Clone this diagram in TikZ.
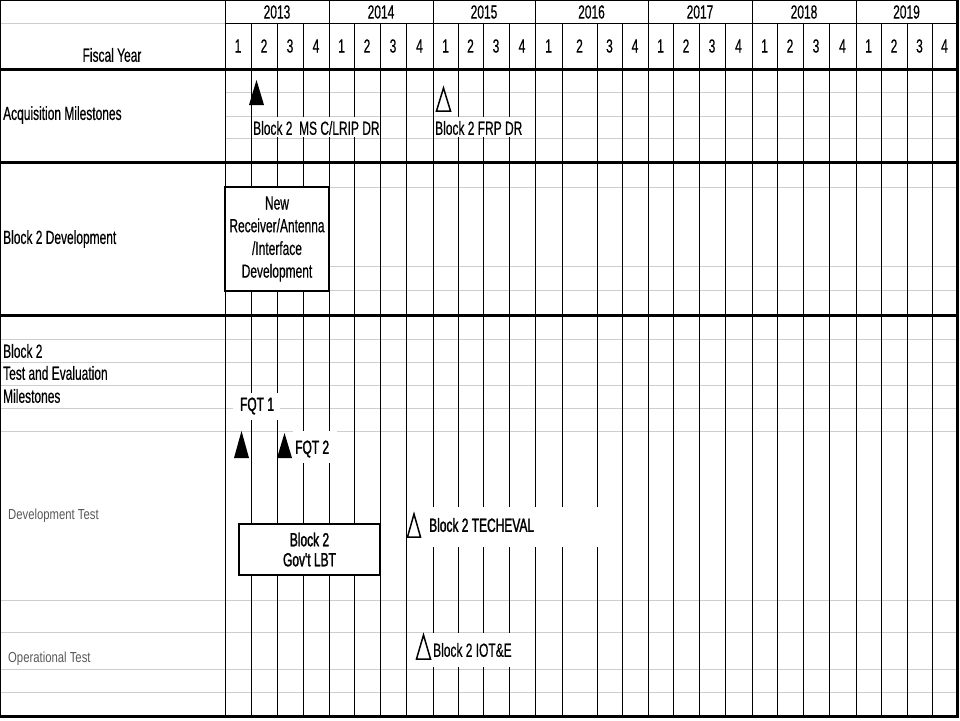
\documentclass[tikz,border=0pt]{standalone}
\usepackage{fontspec}
\setmainfont{Liberation Sans}[FakeStretch=0.63,FakeBold=0.4]
\newfontfamily\bfishfont{Liberation Sans}[FakeStretch=0.63,FakeBold=1.5]
\newfontfamily\thinfont{Liberation Sans}[FakeStretch=0.78]
\newcommand\fsmain{\fontsize{19}{22.7}\selectfont}
\newcommand\fsbf{\bfishfont\fontsize{19}{20}\selectfont}
\newcommand\fsthin{\thinfont\fontsize{14.5}{16}\selectfont}
\definecolor{gridgray}{RGB}{205,205,205}
\begin{document}
\begin{tikzpicture}[x=1pt,y=-1pt,
  thinline/.style={line width=1pt,black},
  thickline/.style={line width=3pt,black},
  grayline/.style={line width=1pt,gridgray},
  num/.style={inner sep=0pt,font=\fsmain},
  rowlabel/.style={inner sep=0pt,anchor=west,align=left,font=\fsmain},
  sublabel/.style={inner sep=0pt,anchor=west,align=left,font=\fsthin,text=black!65},
  whitebg/.style={fill=white,inner sep=0pt,anchor=north west},
  lab/.style={inner sep=0pt,anchor=west,font=\fsmain},
  labbf/.style={lab,font=\fsbf},
  taskbox/.style={draw=black,line width=2.5pt,fill=white,inner sep=0pt,align=center},
  filledtri/.style={fill=black},
  opentri/.style={draw=black,line width=1.5pt,fill=white,line join=miter}
]
\useasboundingbox (0,0) rectangle (960,720);
\fill[white] (0,0) rectangle (960,720);

% gray grid lines
\draw[grayline] (0,23) -- (225,23);
\foreach \y in {92,116,138,187,266,290}
  \draw[grayline] (225,\y) -- (957,\y);
\foreach \y in {339,362,385,408,431,600,632,669,692}
  \draw[grayline] (0,\y) -- (957,\y);

% vertical lines
\foreach \x in {251,277,303,354,380,406,458,483,509,562,597,622,673,699,725,777,803,829,881,907,932}
  \draw[thinline] (\x,23) -- (\x,716);
\foreach \x in {225,329,433,535,648,752,856}
  \draw[thinline] (\x,0) -- (\x,716);
\draw[thinline] (0.5,0) -- (0.5,716);
\draw[line width=2.5pt] (957.5,0) -- (957.5,717.5);

% horizontal black lines
\draw[thinline] (0,0.5) -- (959,0.5);
\draw[thinline] (225,23) -- (957,23);
\foreach \y in {69,162,315,716}
  \draw[thickline] (0,\y) -- (959,\y);

% year labels
\node[num] (y2013) at (277,12) {2013};
\node[num] (y2014) at (381,12) {2014};
\node[num] (y2015) at (484,12) {2015};
\node[num] (y2016) at (591.5,12) {2016};
\node[num] (y2017) at (700,12) {2017};
\node[num] (y2018) at (804,12) {2018};
\node[num] (y2019) at (906.5,12) {2019};

% quarter labels
\foreach \a/\b [count=\i] in {225/251,251/277,277/303,303/329,329/354,354/380,380/406,406/433,433/458,458/483,483/509,509/535,535/562,562/597,597/622,622/648,648/673,673/699,699/725,725/752,752/777,777/803,803/829,829/856,856/881,881/907,907/932,932/957}{
  \pgfmathtruncatemacro\q{mod(\i-1,4)+1}
  \node[num] (q\i) at ({(\a+\b)/2},46) {\q};
}

% row labels
\node[num] (fy) at (112,55) {Fiscal Year};
\node[rowlabel] (acq) at (3,115) {Acquisition Milestones};
\node[rowlabel] (dev) at (3,239) {Block 2 Development};
\node[rowlabel] (te1) at (3,351) {Block 2};
\node[rowlabel] (te2) at (3,373) {Test and Evaluation};
\node[rowlabel] (te3) at (3,396) {Milestones};
\node[sublabel] (dt) at (8,516) {Development Test};
\node[sublabel] (ot) at (8,659) {Operational Test};

% task boxes
\node[taskbox,minimum width=104pt,minimum height=104pt,font=\fsmain] (newdev) at (277,239)
  {New\\Receiver/Antenna\\/Interface\\Development};
\node[taskbox,minimum width=141pt,minimum height=51pt,font=\fsbf] (lbt) at (309.5,549.5)
  {Block 2\\Gov't LBT};

% white backgrounds of milestone labels
\node[whitebg,minimum width=127pt,minimum height=20pt] (mscbg) at (252,117) {};
\node[whitebg,minimum width=88pt,minimum height=20pt] (frpbg) at (434,117) {};
\node[whitebg,minimum width=47pt,minimum height=27pt] (fqt1bg) at (233,393) {};
\node[whitebg,minimum width=44pt,minimum height=32pt] (fqt2bg) at (293,431) {};
\node[whitebg,minimum width=181pt,minimum height=40pt] (techbg) at (422,507) {};
\node[whitebg,minimum width=84pt,minimum height=34pt] (iotbg) at (432,633) {};

% milestone labels
\node[lab] (msc) at (253,128) {Block 2\ \ MS C/LRIP DR};
\node[lab] (frp) at (435,128) {Block 2 FRP DR};
\node[labbf,anchor=center] (fqt1) at (257,406) {FQT 1};
\node[labbf] (fqt2) at (295,449) {FQT 2};
\node[labbf] (tech) at (429,525) {Block 2 TECHEVAL};
\node[lab] (iot) at (433,650) {Block 2 IOT\&E};

% milestone triangles
\fill[filledtri] (249,105) -- (256.5,80) -- (264,105) -- cycle;
\draw[opentri] (436.5,111) -- (443.5,88) -- (450.5,111) -- cycle;
\fill[filledtri] (234,458) -- (241.5,431) -- (249,458) -- cycle;
\fill[filledtri] (277,458) -- (284.5,433) -- (292,458) -- cycle;
\draw[opentri] (407.5,537) -- (414,514) -- (420.5,537) -- cycle;
\draw[opentri] (416.5,659) -- (423.5,635) -- (430.5,659) -- cycle;
\end{tikzpicture}
\end{document}
